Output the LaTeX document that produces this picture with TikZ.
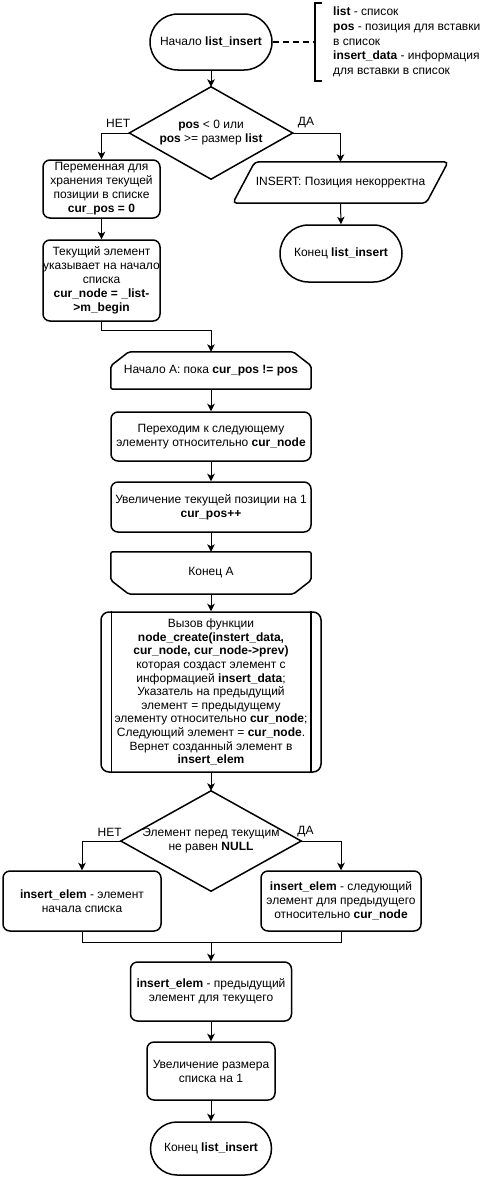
\documentclass[tikz,border=0pt]{standalone}
\usepackage{fontspec}
\setmainfont{Liberation Sans}
\usetikzlibrary{calc,arrows.meta,shapes.misc}

\tikzset{
  txt/.style={font=\fontsize{12}{14}\selectfont, align=center, inner sep=0pt},
  box/.style={txt, draw, line width=1.5pt, rounded corners=7pt},
  term/.style={txt, draw, line width=1.5pt, rounded rectangle},
  bare/.style={txt},
  conn/.style={line width=1pt},
  arrow/.style={conn, -{Stealth[length=7.5pt,width=7.5pt,inset=2pt]}},
  outline/.style={line width=1.5pt},
  edgelabel/.style={font=\fontsize{12}{14}\selectfont, inner sep=2pt},
}

\begin{document}
\begin{tikzpicture}[x=1pt,y=-1pt]
\useasboundingbox (0,0) rectangle (481,1183);

% start and its parameter note
\node[term, minimum width=122pt, minimum height=56pt] (start) at (211,42) {Начало \textbf{list\_insert}};
\coordinate (br) at (315,42);
\node[bare, anchor=west, align=left, font=\fontsize{12}{14.7}\selectfont] (note) at (333,42)
  {\textbf{list} - список\\\textbf{pos} - позиция для вставки\\в список\\\textbf{insert\_data} - информация\\для вставки в список};
\draw[line width=1.5pt, dash pattern=on 6pt off 4pt] (start.east) -- (br);
\draw[line width=1.5pt] ($(br)+(7,-39)$) -- ($(br)+(0,-39)$) -- ($(br)+(0,39)$) -- ($(br)+(7,39)$);

% range check
\node[bare, minimum width=163pt, minimum height=92pt] (d1) at (211,133)
  {\textbf{pos} < 0 или\\\textbf{pos} >= размер \textbf{list}};
\draw[outline] (d1.north) -- (d1.east) -- (d1.south) -- (d1.west) -- cycle;
\node[edgelabel, anchor=south east] (d1no) at ($(d1.west)+(3,-3)$) {НЕТ};
\node[edgelabel, anchor=south west] (d1yes) at ($(d1.east)+(3,-3)$) {ДА};

\node[box, minimum width=117pt, minimum height=58pt] (b1) at (101.5,189)
  {Переменная для\\хранения текущей\\позиции в списке\\\textbf{cur\_pos = 0}};
\node[bare, minimum width=215pt, minimum height=41pt] (io) at (340.5,182.5) {INSERT: Позиция некорректна};
\draw[outline, rounded corners=4pt] ($(io.north west)+(22,0)$) -- (io.north east) -- ($(io.south east)+(-22,0)$) -- (io.south west) -- cycle;
\node[term, minimum width=122pt, minimum height=57pt] (end1) at (341,253.5) {Конец \textbf{list\_insert}};

\node[box, minimum width=117pt, minimum height=81pt] (b2) at (101.5,280.5)
  {Текущий элемент\\указывает на начало\\списка\\\textbf{cur\_node = \_list-}\\\textbf{>m\_begin}};

% loop A
\node[bare, minimum width=200pt, minimum height=37pt] (loopA) at (211,370.5) {Начало А: пока \textbf{cur\_pos != pos}};
\draw[outline, rounded corners=2pt] ($(loopA.north west)+(18,0)$) -- ($(loopA.north east)+(-18,0)$) -- ($(loopA.north east)+(0,14)$)
  -- (loopA.south east) -- (loopA.south west) -- ($(loopA.north west)+(0,14)$) -- cycle;
\node[box, minimum width=200pt, minimum height=49pt] (b3) at (211,436.5)
  {Переходим к следующему\\элементу относительно \textbf{cur\_node}};
\node[box, minimum width=200pt, minimum height=50pt] (b4) at (211,507)
  {Увеличение текущей позиции на 1\\\textbf{cur\_pos++}};
\node[bare, minimum width=200pt, minimum height=42pt] (loopE) at (211,573) {Конец А};
\draw[outline, rounded corners=2pt] (loopE.north west) -- (loopE.north east) -- ($(loopE.south east)+(0,-14)$)
  -- ($(loopE.south east)+(-18,0)$) -- ($(loopE.south west)+(18,0)$) -- ($(loopE.south west)+(0,-14)$) -- cycle;

% node creation call
\node[box, rounded corners=8pt, minimum width=220pt, minimum height=160pt, font=\fontsize{12}{13.6}\selectfont] (sub) at (211,692)
  {Вызов функции\\\textbf{node\_create(instert\_data,}\\\textbf{cur\_node, cur\_node->prev)}\\которая создаст элемент с\\информацией \textbf{insert\_data};\\Указатель на предыдущий\\элемент = предыдущему\\элементу относительно \textbf{cur\_node};\\Следующий элемент = \textbf{cur\_node}.\\Вернет созданный элемент в\\\textbf{insert\_elem}};
\draw[outline] ($(sub.north west)+(11,0)$) -- ($(sub.south west)+(11,0)$);
\draw[outline] ($(sub.north east)+(-11,0)$) -- ($(sub.south east)+(-11,0)$);

% previous element check
\node[bare, minimum width=180pt, minimum height=100pt] (d2) at (211,841)
  {Элемент перед текущим\\не равен \textbf{NULL}};
\draw[outline] (d2.north) -- (d2.east) -- (d2.south) -- (d2.west) -- cycle;
\node[edgelabel, anchor=south east] (d2no) at ($(d2.west)+(3,-2)$) {НЕТ};
\node[edgelabel, anchor=south west] (d2yes) at ($(d2.east)+(-6,-2)$) {ДА};

\node[box, minimum width=158pt, minimum height=60pt] (b5) at (82,901)
  {\textbf{insert\_elem} - элемент\\начала списка};
\node[box, minimum width=160pt, minimum height=60pt] (b6) at (341,901)
  {\textbf{insert\_elem} - следующий\\элемент для предыдущего\\относительно \textbf{cur\_node}};
\coordinate (m) at (211,942);
\node[box, minimum width=161pt, minimum height=59pt] (b7) at (211,991.5)
  {\textbf{insert\_elem} - предыдущий\\элемент для текущего};
\node[box, minimum width=128pt, minimum height=58pt] (b8) at (211,1071)
  {Увеличение размера\\списка на 1};
\node[term, minimum width=121pt, minimum height=53pt] (end2) at (211,1148.5) {Конец \textbf{list\_insert}};

% connectors
\draw[arrow] (start.south) -- (d1.north);
\draw[arrow] (d1.west) -| (b1.north);
\draw[arrow] (d1.east) -| (io.north);
\draw[arrow] (io.south) -- (end1.north);
\draw[arrow] (b1.south) -- (b2.north);
\draw[arrow] (b2.south) -- ++(0,9) -| (loopA.north);
\draw[arrow] (loopA.south) -- (b3.north);
\draw[arrow] (b3.south) -- (b4.north);
\draw[arrow] (b4.south) -- (loopE.north);
\draw[arrow] (loopE.south) -- (sub.north);
\draw[arrow] (sub.south) -- (d2.north);
\draw[arrow] (d2.west) -| (b5.north);
\draw[arrow] (d2.east) -| (b6.north);
\draw[conn] (b5.south) |- (m) -| (b6.south);
\draw[arrow] (m) -- (b7.north);
\draw[arrow] (b7.south) -- (b8.north);
\draw[arrow] (b8.south) -- (end2.north);
\end{tikzpicture}
\end{document}
